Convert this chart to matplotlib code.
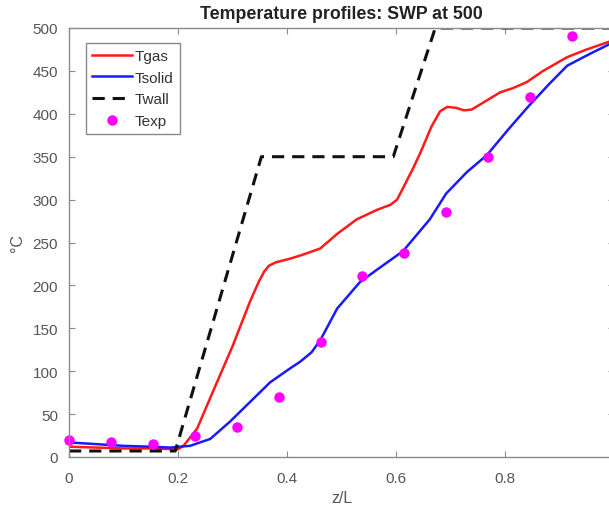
import matplotlib
matplotlib.use("Agg")
import matplotlib.pyplot as plt

# ---- data ----
tgas_x = [0, 0.05, 0.1, 0.15, 0.2, 0.21, 0.235, 0.264, 0.3, 0.332, 0.348, 0.358, 0.367, 0.38,
          0.405, 0.43, 0.461, 0.492, 0.528, 0.565, 0.59, 0.602, 0.615, 0.631, 0.645, 0.665, 0.681,
          0.694, 0.71, 0.725, 0.739, 0.76, 0.791, 0.815, 0.84, 0.87, 0.914, 0.95, 0.991, 1.0]
tgas_y = [12, 11, 10, 10, 9, 13, 33, 76, 129, 181, 204, 216, 223, 227,
          231, 236, 243, 260, 277, 288, 294, 300, 316, 336, 355, 385, 403,
          408, 407, 404, 405, 413, 425, 430, 437, 450, 466, 475, 484, 486]

tsolid_x = [0, 0.05, 0.1, 0.15, 0.185, 0.222, 0.259, 0.295, 0.332, 0.369, 0.387, 0.405,
            0.424, 0.445, 0.461, 0.492, 0.534, 0.571, 0.613, 0.662, 0.692, 0.73, 0.767,
            0.805, 0.842, 0.88, 0.914, 0.95, 0.991, 1.0]
tsolid_y = [17, 15, 13, 12, 11, 13, 21, 41, 64, 87, 95, 103,
            111, 122, 136, 173, 204, 221, 240, 277, 307, 332, 352,
            381, 408, 434, 456, 468, 481, 483]

twall_x = [0, 0.195, 0.353, 0.595, 0.672, 1.0]
twall_y = [7, 7, 350, 350, 500, 500]

texp_x = [0, 1/13, 2/13, 3/13, 4/13, 5/13, 6/13, 7/13, 8/13, 9/13, 10/13, 11/13, 12/13, 1.0]
texp_y = [20, 17, 15, 25, 35, 70, 134, 211, 238, 285, 350, 420, 491, 497]

xticks = [0, 0.2, 0.4, 0.6, 0.8, 1.0]
xticklabels = ["0", "0.2", "0.4", "0.6", "0.8", "1"]
yticks = list(range(0, 501, 50))

plt.rcParams['font.family'] = ['Liberation Sans', 'DejaVu Sans']

fig = plt.figure(figsize=(6.09, 5.10), dpi=100)
ax = fig.add_axes([69/609, 52/510, 545/609, 429/510])

ax.plot(tgas_x, tgas_y, color='#ff1a1a', lw=1.8, label='Tgas')
ax.plot(tsolid_x, tsolid_y, color='#1a1aff', lw=1.8, label='Tsolid')
ax.plot(twall_x, twall_y, color='#111111', lw=2.2, linestyle=(0, (4.0, 2.6)), label='Twall')
ax.plot(texp_x, texp_y, linestyle='none', marker='o', markersize=7.5,
        color='#ff00ff', markeredgewidth=0, label='Texp', clip_on=False)

ax.set_xlim(0, 1)
ax.set_ylim(0, 500)
ax.set_xticks(xticks)
ax.set_xticklabels(xticklabels)
ax.set_yticks(yticks)

spine_col = '#8a8a8a'
for s in ax.spines.values():
    s.set_color(spine_col)
    s.set_linewidth(1.0)
ax.tick_params(direction='in', length=4, width=0.8, colors=spine_col,
               labelcolor='#555555', labelsize=11, top=True, right=True)
ax.tick_params(axis='x', pad=10)
ax.tick_params(axis='y', pad=8)

ax.set_xlabel('z/L', fontsize=11.5, color='#555555', labelpad=4)
ax.set_ylabel('°C', fontsize=11.5, color='#555555', labelpad=5)
ax.set_title('Temperature profiles: SWP at 500', fontsize=12.8, fontweight='bold',
             color='#222222', pad=7)

leg = ax.legend(loc='upper left', bbox_to_anchor=((86-69)/545, (458-44)/429),
                borderaxespad=0, fancybox=False, framealpha=1, edgecolor='#8a8a8a',
                fontsize=11, handlelength=2.6, handletextpad=0.2, labelspacing=0.5,
                borderpad=0.4, markerscale=1.0)
leg.get_frame().set_linewidth(1.0)
for t in leg.get_texts():
    t.set_color('#333333')

fig.savefig('out.png', dpi=100)
